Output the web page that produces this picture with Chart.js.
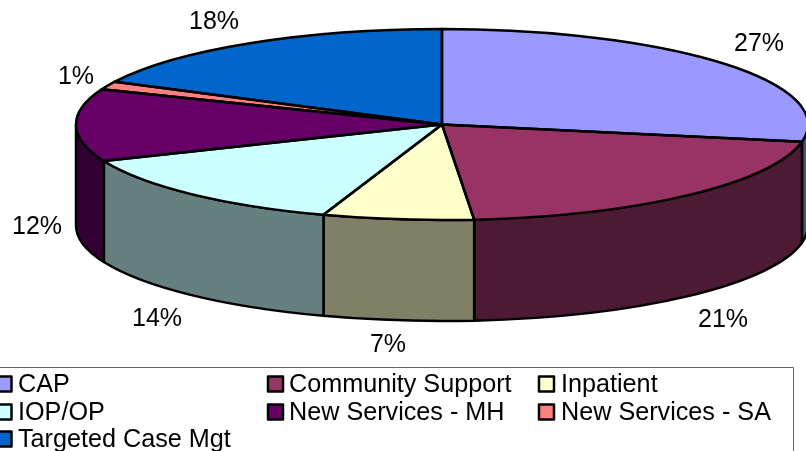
<!DOCTYPE html>
<html>
<head>
<meta charset="utf-8">
<title>Pie chart</title>
<style>
  html, body { margin: 0; padding: 0; background: #fff; overflow: hidden; }
  canvas { display: block; }
</style>
</head>
<body>
<canvas id="pieChart" width="806" height="451"></canvas>
<script src="https://cdn.jsdelivr.net/npm/chart.js@4/dist/chart.umd.min.js"></script>
<script>
// Chart data
const categories = ['CAP', 'Community Support', 'Inpatient', 'IOP/OP', 'New Services - MH', 'New Services - SA', 'Targeted Case Mgt'];
const shares = [27.9, 20.7, 6.65, 13.5, 12.25, 1.4, 17.6];
const shareLabels = ['27%', '21%', '7%', '14%', '12%', '1%', '18%'];
const topColors = ['#9999FF', '#993366', '#FFFFCC', '#CCFFFF', '#660066', '#FF8080', '#0066CC'];
const sideColors = ['#4D4D80', '#4D1A33', '#808066', '#668080', '#330033', '#804040', '#003366'];

// Where the percent labels sit
const labelX = [759, 723, 388, 157, 37, 76, 214];
const labelY = [44, 320, 345, 319, 227, 77, 22];

// Legend layout
const legendBoxX = [-3.5, 268, 539];
const legendTextX = [18, 289, 561];
const legendBaseY = [392, 420, 447];

const LABEL_FONT = '25px "Liberation Sans", Arial, sans-serif';
const LEGEND_FONT = '25.2px "Liberation Sans", Arial, sans-serif';
const SQUASH = 95.5 / 366; // how flat the tilted pie looks
const DEPTH = 101;         // height of the pie wall

function outline(ctx) {
    ctx.strokeStyle = '#000';
    ctx.lineWidth = 2.5;
    ctx.lineJoin = 'round';
    ctx.stroke();
}

// Tilts the normal pie and adds the wall under it
const tiltPlugin = {
    id: 'tilt',
    beforeDatasetDraw(chart) {
        const ctx = chart.ctx;
        const arcs = chart.getDatasetMeta(0).data;

        // Wall, only the front half can be seen
        arcs.forEach((arc, i) => {
            const from = Math.max(arc.startAngle, 0);
            const to = Math.min(arc.endAngle, Math.PI);
            if (from >= to) return;
            const rx = arc.outerRadius;
            const ry = rx * SQUASH;
            ctx.beginPath();
            ctx.ellipse(arc.x, arc.y, rx, ry, 0, from, to);
            ctx.ellipse(arc.x, arc.y + DEPTH, rx, ry, 0, to, from, true);
            ctx.closePath();
            ctx.fillStyle = sideColors[i];
            ctx.fill();
            outline(ctx);
        });

        const first = arcs[0];
        ctx.save();
        ctx.translate(first.x, first.y);
        ctx.scale(1, SQUASH);
        ctx.translate(-first.x, -first.y);
    },
    afterDatasetDraw(chart) {
        const ctx = chart.ctx;
        ctx.restore();

        // Outlines drawn without the tilt so the line keeps its width
        chart.getDatasetMeta(0).data.forEach(arc => {
            const rx = arc.outerRadius;
            ctx.beginPath();
            ctx.moveTo(arc.x, arc.y);
            ctx.ellipse(arc.x, arc.y, rx, rx * SQUASH, 0, arc.startAngle, arc.endAngle);
            ctx.closePath();
            outline(ctx);
        });
    },
    afterDraw(chart) {
        const ctx = chart.ctx;
        ctx.save();
        ctx.font = LABEL_FONT;
        ctx.fillStyle = '#000';
        ctx.textAlign = 'center';
        ctx.textBaseline = 'middle';
        shareLabels.forEach((text, i) => ctx.fillText(text, labelX[i], labelY[i]));

        // Legend box runs off the left and bottom of the picture
        ctx.strokeStyle = '#666';
        ctx.lineWidth = 1;
        ctx.strokeRect(-5.5, 367.5, 799, 200);

        ctx.font = LEGEND_FONT;
        ctx.textAlign = 'left';
        ctx.textBaseline = 'alphabetic';
        categories.forEach((name, i) => {
            const col = i % 3;
            const y = legendBaseY[Math.floor(i / 3)];
            ctx.fillStyle = topColors[i];
            ctx.fillRect(legendBoxX[col], y - 15.5, 15, 15);
            ctx.strokeStyle = '#000';
            ctx.lineWidth = 2.5;
            ctx.strokeRect(legendBoxX[col], y - 15.5, 15, 15);
            ctx.fillStyle = '#000';
            ctx.fillText(name, legendTextX[col], y);
        });
        ctx.restore();
    }
};

new Chart(document.getElementById('pieChart').getContext('2d'), {
    type: 'pie',
    data: {
        labels: categories,
        datasets: [{
            data: shares,
            backgroundColor: topColors,
            borderWidth: 0,
            clip: false
        }]
    },
    options: {
        responsive: false,
        animation: false,
        radius: 366,
        layout: { padding: { left: 78, bottom: 202 } },
        plugins: {
            legend: { display: false },
            tooltip: { enabled: false }
        }
    },
    plugins: [tiltPlugin]
});
</script>
</body>
</html>
